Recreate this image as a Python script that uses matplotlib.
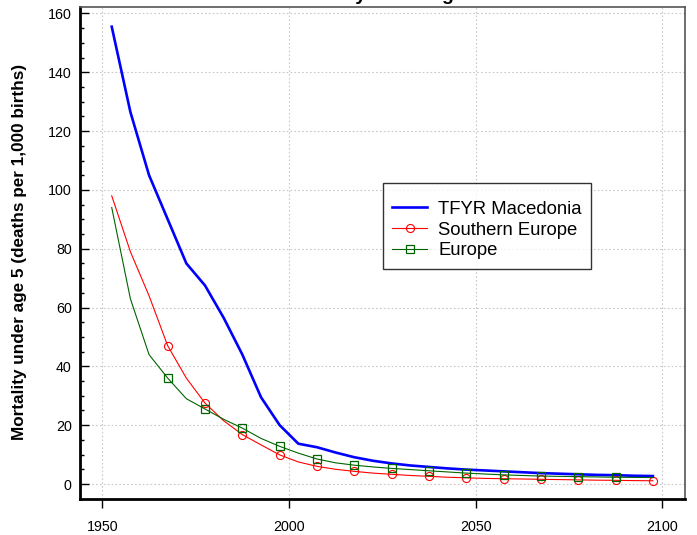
import numpy as np
import matplotlib
matplotlib.use("Agg")
import matplotlib.pyplot as plt
from matplotlib.ticker import MultipleLocator

plt.rcParams["font.family"] = ["Liberation Sans", "DejaVu Sans"]

# ── Data ──────────────────────────────────────────────────────────────────────
YEARS = [1952.5 + 5 * i for i in range(30)]

MACEDONIA = [155.5, 126.5, 105.0, 90.0, 75.0, 67.5, 56.5, 44.0, 29.5, 20.0,
             13.7, 12.5, 10.7, 9.1, 7.9, 7.0, 6.3, 5.8, 5.3, 4.9,
             4.6, 4.3, 4.0, 3.7, 3.5, 3.3, 3.1, 3.0, 2.8, 2.7]
SOUTHERN_EUROPE = [98.0, 79.0, 64.0, 47.0, 36.0, 27.5, 21.5, 16.8, 13.3, 9.9,
                   7.5, 6.0, 5.0, 4.3, 3.7, 3.3, 2.9, 2.6, 2.3, 2.1,
                   1.9, 1.8, 1.7, 1.6, 1.5, 1.4, 1.3, 1.25, 1.15, 1.1]
EUROPE = [94.0, 63.0, 44.0, 36.0, 29.0, 25.5, 22.0, 19.0, 15.5, 12.8,
          10.5, 8.5, 7.2, 6.4, 5.8, 5.3, 4.9, 4.5, 4.1, 3.7,
          3.4, 3.1, 2.9, 2.7, 2.6, 2.5, 2.4, 2.3, 2.25, 2.2]

X_TICKS = [1950, 2000, 2050, 2100]
Y_TICKS = list(range(0, 161, 20))

TITLE  = "Mortality under age 5"
YLABEL = "Mortality under age 5 (deaths per 1,000 births)"

# ── Plot ──────────────────────────────────────────────────────────────────────
fig = plt.figure(figsize=(6.97, 5.35), dpi=100)
ax = fig.add_axes([80 / 697, 36 / 535, 605 / 697, 492 / 535])

ax.plot(YEARS, MACEDONIA, color="#0000ff", linewidth=1.9, label="TFYR Macedonia")
ax.plot(YEARS, SOUTHERN_EUROPE, color="#ff0000", linewidth=0.8, marker="o",
        markersize=5.8, markerfacecolor="none", markeredgewidth=0.8,
        markevery=slice(3, 30, 2), label="Southern Europe")
ax.plot(YEARS, EUROPE, color="#006400", linewidth=0.8, marker="s",
        markersize=5.6, markerfacecolor="none", markeredgewidth=0.9,
        markevery=slice(3, 28, 2), label="Europe")

ax.set_xlim(1944.0, 2106.1)
ax.set_ylim(-5.1, 162.2)
ax.set_xticks(X_TICKS)
ax.set_yticks(Y_TICKS)
ax.yaxis.set_minor_locator(MultipleLocator(5))
ax.tick_params(axis="x", direction="out", length=6.5, width=1, labelsize=10.3, pad=8.3)
ax.tick_params(axis="y", which="major", direction="in", length=6.5, width=1,
               labelsize=10.3, pad=6)
ax.tick_params(axis="y", which="minor", direction="in", length=3.2, width=1)

ax.grid(True, linestyle=(0, (1.5, 2)), color="#c8c8c8", linewidth=0.8)

ax.spines["left"].set_linewidth(2)
ax.spines["bottom"].set_linewidth(2)
ax.spines["top"].set_color("#555555")
ax.spines["right"].set_color("#555555")
ax.spines["top"].set_linewidth(1.2)
ax.spines["right"].set_linewidth(1.2)

ax.set_ylabel(YLABEL, fontsize=12.3, fontweight="bold")
ax.yaxis.set_label_coords(-0.088, 0.502)

fig.text(382.5 / 697, 1.0, TITLE, ha="center", va="baseline",
         fontsize=14, fontweight="bold")

# a tiny blank title gives the extra room above the entries
leg = ax.legend(loc="upper left", bbox_to_anchor=(0.5008, 0.6423), fontsize=13.3,
                title=" ", title_fontsize=3.5,
                frameon=True, fancybox=False, edgecolor="black",
                borderaxespad=0, handlelength=1.9, borderpad=0.5,
                labelspacing=0.2, handletextpad=0.59)
leg.get_frame().set_linewidth(1.0)

fig.savefig("out.png", dpi=100)
